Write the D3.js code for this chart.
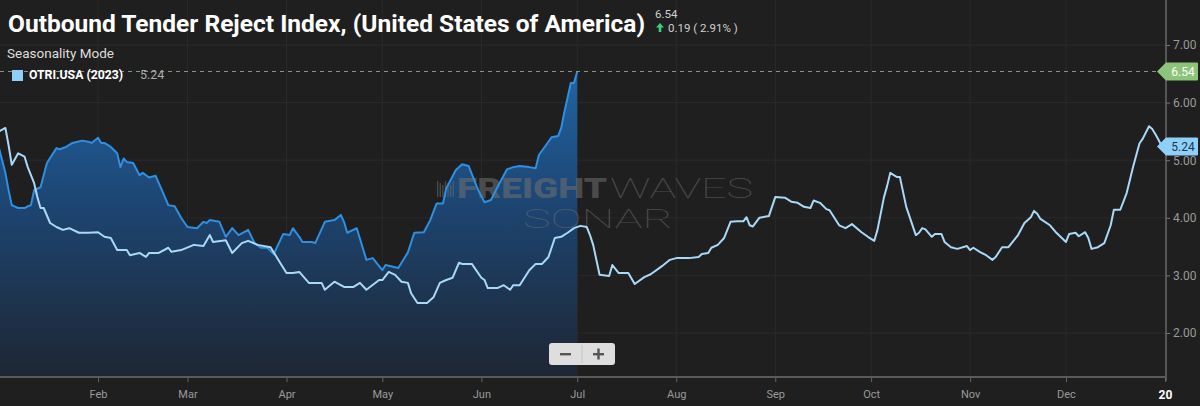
<!DOCTYPE html>
<html><head><meta charset="utf-8">
<script src="https://cdn.jsdelivr.net/npm/d3@7"></script>
<style>
html,body{margin:0;padding:0;background:#1f1f1f;overflow:hidden;}
svg{display:block;}
</style>
</head><body>
<svg id="chart" width="1200" height="406"></svg>
<script>
// ---- Data (day offset from Jan 1, value) ----
const yearStart = Date.UTC(2023, 0, 1);
const days2023 = [0,2,3,4,6,8,9,11,12,13,14,16,18,20,22,25,28,31,33,35,37,40,41,44,46,47,50,53,54,57,61,64,66,67,71,73,76,78,81,85,88,90,92,94,97,101,102,105,108,111,113,115,119,120,122,124,126,128,129,131,134,136,138,140,142,144,145,148,151,152,153,156,158,160,161,163,166,168,170,172,174,176,178,180,182,184,185,186,188,191,192,194,197,199,202,204,207,208,210,212,214,216,219,220,222,223,225,227,228,229,231,233,234,235,236,238,241,243,246,248,250,252,254,255,257,259,260,263,265,267,270,272,274,275,277,278,279,281,282,284,287,288,289,290,292,293,295,296,298,300,303,304,305,307,309,311,312,314,316,319,321,323,324,325,326,329,331,334,335,337,338,340,341,342,344,346,348,349,351,353,355,357,358,360,361,362,363,364];
const values2023 = [5.50,5.56,5.26,4.92,5.12,5.06,4.88,4.60,4.36,4.17,4.17,3.91,3.84,3.79,3.82,3.74,3.74,3.75,3.67,3.65,3.44,3.44,3.35,3.39,3.32,3.39,3.39,3.48,3.41,3.44,3.53,3.51,3.70,3.58,3.61,3.39,3.56,3.60,3.53,3.49,3.22,3.04,3.04,3.06,2.87,2.87,2.75,2.89,2.80,2.80,2.87,2.75,2.92,2.92,3.06,3.01,2.89,2.87,2.69,2.52,2.52,2.62,2.87,2.92,2.96,3.22,3.20,3.20,2.96,2.92,2.78,2.78,2.83,2.75,2.83,2.83,3.09,3.20,3.20,3.32,3.65,3.67,3.74,3.82,3.86,3.84,3.70,3.53,3.01,2.99,3.18,3.04,3.04,2.85,2.97,3.02,3.14,3.18,3.27,3.30,3.30,3.30,3.32,3.37,3.39,3.48,3.53,3.65,3.79,3.93,3.94,3.94,4.01,3.87,3.85,4.00,4.03,4.36,4.35,4.28,4.26,4.19,4.17,4.30,4.26,4.15,4.13,3.87,3.82,3.89,3.75,3.67,3.60,3.79,4.35,4.55,4.78,4.71,4.71,4.19,3.70,3.74,3.82,3.80,3.67,3.72,3.72,3.58,3.49,3.46,3.51,3.44,3.48,3.41,3.35,3.27,3.32,3.49,3.49,3.70,3.91,4.01,4.12,4.07,3.98,3.87,3.74,3.58,3.72,3.74,3.68,3.75,3.65,3.46,3.49,3.56,3.87,4.14,4.14,4.43,4.88,5.29,5.37,5.59,5.54,5.45,5.35,5.24];

const daysCurrent = [0,2,3,4,6,8,9,10,11,13,15,18,19,21,23,26,28,29,31,32,33,35,37,38,39,40,42,44,45,47,49,51,53,55,57,59,62,64,65,66,69,71,73,75,78,80,82,84,86,87,89,91,92,94,95,98,99,102,105,107,108,109,112,115,117,120,121,125,128,130,133,135,137,139,140,143,145,147,150,152,154,156,159,161,163,166,168,169,172,173,175,176,177,179,180,181];
const valuesCurrent = [5.21,4.78,4.48,4.22,4.17,4.17,4.20,4.22,4.48,4.53,4.95,5.21,5.19,5.23,5.30,5.34,5.32,5.30,5.39,5.30,5.30,5.23,5.12,4.88,5.03,4.97,4.95,4.74,4.78,4.70,4.73,4.48,4.22,4.20,4.00,3.84,3.82,3.93,3.91,3.96,3.93,3.67,3.82,3.70,3.79,3.56,3.48,3.48,3.37,3.49,3.72,3.70,3.82,3.67,3.58,3.58,3.56,3.93,3.96,4.05,3.93,3.74,3.82,3.27,3.30,3.09,3.18,3.13,3.40,3.74,3.75,3.96,4.25,4.25,4.51,4.83,4.93,4.90,4.48,4.27,4.31,4.53,4.84,4.88,4.90,4.88,4.86,5.09,5.32,5.40,5.42,5.56,5.84,6.34,6.34,6.54];

const monthLabels = ["Feb","Mar","Apr","May","Jun","Jul","Aug","Sep","Oct","Nov","Dec","20"];
const yTickValues = [2,3,4,5,6,7];
const titleText = "Outbound Tender Reject Index, (United States of America)";
const lastValue = 6.54, changeValue = 0.19, changePct = 2.91;
const legendName = "OTRI.USA (2023)", legendValue = 5.24;

// ---- Scales ----
const svg = d3.select("#chart");
const W = 1200, H = 406;
const plotRight = 1166, plotBottom = 377;
const x = d3.scaleUtc().domain([new Date(yearStart), new Date(Date.UTC(2024,0,1))]).range([-1, 1165]);
const y = d3.scaleLinear().domain([2, 7]).range([333, 45]);
const toDate = d => new Date(yearStart + d * 86400000);

const s2023 = days2023.map((d,i)=>({date:toDate(d), v:values2023[i]}));
const sCur = daysCurrent.map((d,i)=>({date:toDate(d), v:valuesCurrent[i]}));

svg.append("rect").attr("width",W).attr("height",H).attr("fill","#1f1f1f");

const defs = svg.append("defs");
const grad = defs.append("linearGradient").attr("id","areaGrad")
  .attr("gradientUnits","userSpaceOnUse").attr("x1",0).attr("x2",0).attr("y1",y(6.54)).attr("y2",plotBottom);
grad.append("stop").attr("offset","0%").attr("stop-color","#2064a3");
grad.append("stop").attr("offset","45%").attr("stop-color","#1d4470");
grad.append("stop").attr("offset","100%").attr("stop-color","#1e2633");

// gridlines
const monthTicks = d3.range(1,13).map(m=>new Date(Date.UTC(2023,m,1)));
svg.append("g").selectAll("line").data(monthTicks.slice(0,11)).join("line")
  .attr("x1",d=>x(d)).attr("x2",d=>x(d)).attr("y1",0).attr("y2",plotBottom)
  .attr("stroke","#2a2a2a").attr("stroke-width",1);
svg.append("g").selectAll("line").data(yTickValues).join("line")
  .attr("x1",0).attr("x2",plotRight).attr("y1",d=>y(d)).attr("y2",d=>y(d))
  .attr("stroke","#2a2a2a").attr("stroke-width",1);

// area of current series
const area = d3.area().x(d=>x(d.date)).y0(plotBottom).y1(d=>y(d.v)).curve(d3.curveLinear);
svg.append("path").datum(sCur).attr("d",area).attr("fill","url(#areaGrad)");

// watermark
const wm = svg.append("g").attr("fill","#707070").attr("opacity",0.55);
const iconX = 437;
for (let i=0;i<7;i++){
  wm.append("rect").attr("x",iconX+i*2.6).attr("y",181+(i%3)*2).attr("width",1.3).attr("height",16-(i%3)*2);
}
wm.append("text").attr("x",457).attr("y",198).attr("font-family","Roboto, sans-serif").attr("font-weight",900)
  .attr("font-size",27).attr("textLength",150).attr("lengthAdjust","spacingAndGlyphs").text("FREIGHT");
wm.append("text").attr("x",610).attr("y",198).attr("font-family","Roboto, sans-serif").attr("font-weight",100)
  .attr("font-size",27).attr("textLength",143).attr("lengthAdjust","spacingAndGlyphs").text("WAVES");
wm.append("text").attr("x",523).attr("y",228).attr("font-family","Roboto, sans-serif").attr("font-weight",100)
  .attr("font-size",26).attr("textLength",150).attr("lengthAdjust","spacingAndGlyphs").text("SONAR");

// lines
const line = d3.line().x(d=>x(d.date)).y(d=>y(d.v));
svg.append("path").datum(sCur).attr("d",line).attr("fill","none").attr("stroke","#2f8fe0").attr("stroke-width",2).attr("stroke-linejoin","round");
svg.append("path").datum(s2023).attr("d",line).attr("fill","none").attr("stroke","#a9d9f7").attr("stroke-width",2).attr("stroke-linejoin","round");

// dashed last-value line
svg.append("line").attr("x1",0).attr("x2",plotRight).attr("y1",y(lastValue)).attr("y2",y(lastValue))
  .attr("stroke","#8a9a80").attr("stroke-width",1).attr("stroke-dasharray","4,4");

// axes
const yAxis = d3.axisRight(y).tickValues(yTickValues).tickFormat(d3.format(".2f")).tickSize(4).tickPadding(3);
const gy = svg.append("g").attr("transform",`translate(${plotRight},0)`).call(yAxis);
gy.select(".domain").remove();
gy.selectAll("line").attr("stroke","#777");
gy.selectAll("text").attr("fill","#9a9a9a").attr("font-size",12).attr("font-family","Roboto, sans-serif");
svg.append("line").attr("x1",plotRight).attr("x2",plotRight).attr("y1",0).attr("y2",plotBottom+4).attr("stroke","#6a6a6a").attr("stroke-width",1.5);

const xAxis = d3.axisBottom(x).tickValues(monthTicks).tickFormat((d,i)=>monthLabels[i]).tickSize(5).tickPadding(8);
const gx = svg.append("g").attr("transform",`translate(0,${plotBottom})`).call(xAxis);
gx.select(".domain").remove();
gx.selectAll("line").attr("stroke","#666");
gx.selectAll("text").attr("fill","#9a9a9a").attr("font-size",11).attr("font-family","Roboto, sans-serif");
gx.selectAll("text").filter((d,i)=>i===11).attr("fill","#ffffff").attr("font-weight","bold").attr("font-size",12);
svg.append("line").attr("x1",0).attr("x2",plotRight).attr("y1",plotBottom).attr("y2",plotBottom).attr("stroke","#5a5a5a").attr("stroke-width",2);

// value tags on right axis
function tag(v, fill, textFill, label){
  const yy = y(v);
  const g = svg.append("g").attr("transform",`translate(1157,${yy})`);
  g.append("path").attr("d","M0,0 L9,-9 L40,-9 Q41,-9 41,-8 L41,8 Q41,9 40,9 L9,9 Z").attr("fill",fill);
  g.append("text").attr("x",26).attr("y",4.5).attr("text-anchor","middle").attr("font-size",12)
    .attr("font-family","Roboto, sans-serif").attr("fill",textFill).text(label);
}
tag(lastValue, "#8cc47a", "#ffffff", d3.format(".2f")(lastValue));
tag(legendValue, "#8fd0f8", "#1b3550", d3.format(".2f")(legendValue));

// zoom buttons
const zb = svg.append("g");
zb.append("rect").attr("x",549).attr("y",343).attr("width",66).attr("height",22).attr("rx",3).attr("fill","#dedede");
zb.append("line").attr("x1",582).attr("x2",582).attr("y1",345).attr("y2",363).attr("stroke","#c4c4c4");
zb.append("rect").attr("x",560).attr("y",353).attr("width",11).attr("height",2.4).attr("fill","#555");
zb.append("rect").attr("x",593).attr("y",353).attr("width",11).attr("height",2.4).attr("fill","#555");
zb.append("rect").attr("x",597.3).attr("y",348.5).attr("width",2.4).attr("height",11).attr("fill","#555");

// title & header
svg.append("text").attr("x",8).attr("y",32).attr("fill","#ffffff").attr("font-family","Roboto, sans-serif")
  .attr("font-weight","bold").attr("font-size",23).attr("textLength",637).attr("lengthAdjust","spacingAndGlyphs").text(titleText);
svg.append("text").attr("x",655).attr("y",18).attr("fill","#cfcfcf").attr("font-family","Roboto, sans-serif")
  .attr("font-size",11.5).text(d3.format(".2f")(lastValue));
svg.append("path").attr("d","M660,23 L664,27.5 L661.3,27.5 L661.3,32 L658.7,32 L658.7,27.5 L656,27.5 Z").attr("fill","#3ecf7a");
svg.append("text").attr("x",668).attr("y",32).attr("fill","#cfcfcf").attr("font-family","Roboto, sans-serif")
  .attr("font-size",11.5).text(`${d3.format(".2f")(changeValue)} ( ${d3.format(".2f")(changePct)}% )`);

svg.append("text").attr("x",7).attr("y",58).attr("fill","#dddddd").attr("font-family","Roboto, sans-serif")
  .attr("font-size",13.5).attr("textLength",107).attr("lengthAdjust","spacingAndGlyphs").text("Seasonality Mode");
svg.append("rect").attr("x",12).attr("y",70).attr("width",11).attr("height",11).attr("fill","#8fd0f8");
svg.append("text").attr("x",29).attr("y",79).attr("fill","#ffffff").attr("font-family","Roboto, sans-serif")
  .attr("font-weight","bold").attr("font-size",12.5).attr("textLength",94).attr("lengthAdjust","spacingAndGlyphs").text(legendName);
svg.append("text").attr("x",140).attr("y",79).attr("fill","#aaaaaa").attr("font-family","Roboto, sans-serif")
  .attr("font-size",12.5).text(d3.format(".2f")(legendValue));
</script>
</body></html>
